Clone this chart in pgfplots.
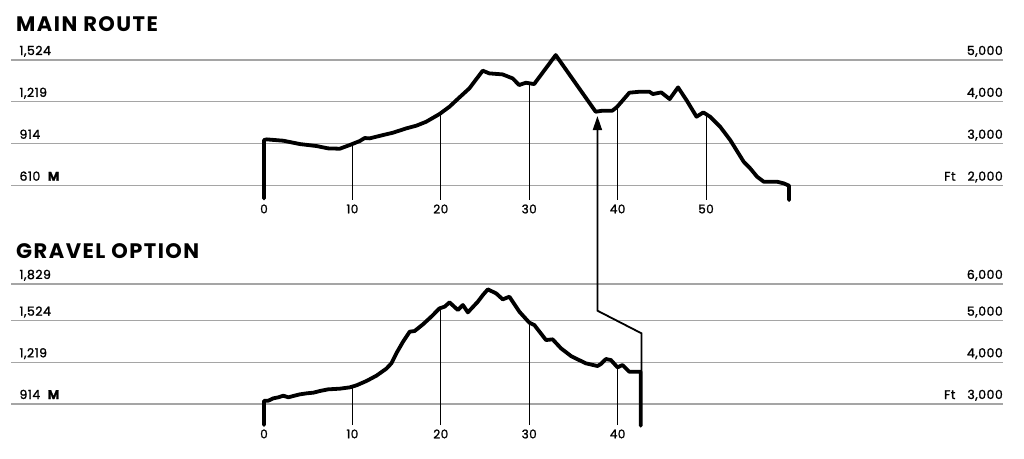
\documentclass[border=0pt]{standalone}
\usepackage{pgfplots}
\pgfplotsset{compat=1.18}
\usepackage{fontspec}
\setmainfont{Poppins}
\newfontfamily\labf{Poppins}[FakeBold=1.5, LetterSpace=4]
\newfontfamily\titf{Poppins}[LetterSpace=7]
\usetikzlibrary{arrows.meta}
\definecolor{gridgray}{RGB}{165,165,165}

\pgfplotsset{
  elev/.style={
    scale only axis,
    width=992pt,
    xmin=-28.62, xmax=83.6,
    axis line style={draw=none},
    major tick length=0pt,
    ymajorgrids,
    grid style={gridgray, line width=1.1pt},
    clip=false,
    xtick={0,10,20,30,40,50},
    xticklabel style={font=\labf\fontsize{12}{14}\selectfont, yshift=-1pt},
    yticklabel style={font=\labf\fontsize{12.5}{14}\selectfont, anchor=base west, xshift=5pt, yshift=5pt},
    /pgf/number format/assume math mode=true,
  },
  prof/.style={black, line width=3.8pt, line join=round, line cap=round},
  drop/.style={black, line width=0.9pt},
}

\begin{document}
\begin{tikzpicture}
\useasboundingbox (0pt,0pt) rectangle (1024pt,458pt);

% ---------------- MAIN ROUTE ----------------
\node[anchor=base west, font=\titf\fontsize{21}{24}\selectfont\bfseries, inner sep=0pt] at (16pt,458pt-32pt) {MAIN ROUTE};
\begin{axis}[elev,
  at={(11pt,258pt)}, anchor=south west,
  height=160pt,
  ymin=1659, ymax=5478,
  ytick={2000,3000,4000,5000},
  yticklabels={610\hspace{7pt}\textbf{M},914,{1,219},{1,524}},
]
\addplot[prof] coordinates {
(0,1698) (0,3090) (0.3,3106) (2.18,3074) (4.06,2994) (5.94,2947) (7.26,2891)
(8.57,2883) (9.70,2971) (10.83,3066) (11.39,3138) (11.95,3130) (13.46,3209)
(14.59,3265) (16.09,3368) (17.22,3432) (18.35,3527) (19.85,3710) (20.98,3885)
(22.11,4108) (23.23,4323) (24.74,4745) (25.49,4681) (26.99,4657) (28.12,4562)
(28.87,4403) (29.62,4458) (30.56,4426) (33.0,5118) (37.52,3766) (38.27,3790)
(39.40,3790) (39.96,3885) (41.33,4220) (42.47,4243) (43.6,4243) (43.99,4188)
(44.94,4227) (45.89,4068) (46.84,4347) (47.79,4045) (48.93,3647) (49.7,3750)
(50.46,3647) (51.6,3408) (52.74,3090) (54.26,2573) (55.0,2414) (55.78,2215)
(56.54,2095) (58.06,2095) (58.8,2056) (59.4,2000) (59.4,1658)
};
\addplot[drop] coordinates {(10,1659) (10,2990)};
\addplot[drop] coordinates {(20,1659) (20,3760)};
\addplot[drop] coordinates {(30,1659) (30,4440)};
\addplot[drop] coordinates {(40,1659) (40,3890)};
\addplot[drop] coordinates {(50,1659) (50,3700)};
\coordinate (tip) at (axis cs:37.75,3663);
\foreach \v/\t in {2000/{Ft\hspace{12pt}2,000},3000/{3,000},4000/{4,000},5000/{5,000}}{
  \edef\tmp{\noexpand\node[anchor=base east, inner sep=0pt, font=\noexpand\labf\noexpand\fontsize{12.5}{14}\noexpand\selectfont] at (axis cs:83.6,\v) [yshift=5pt] {\unexpanded\expandafter{\t}};}
  \tmp
}
\end{axis}

% ---------------- GRAVEL OPTION ----------------
\node[anchor=base west, font=\titf\fontsize{21}{24}\selectfont\bfseries, inner sep=0pt] at (16pt,458pt-259pt) {GRAVEL OPTION};
\begin{axis}[elev,
  at={(11pt,33pt)}, anchor=south west,
  height=145pt,
  ymin=2496, ymax=5977,
  xtick={0,10,20,30,40},
  ytick={3000,4000,5000,5881},
  yticklabels={914\hspace{7pt}\textbf{M},{1,219},{1,524},{1,829}},
]
\addplot[prof] coordinates {
(0,2496) (0,3080) (0.49,3080) (1.05,3136) (1.62,3160) (2.18,3200) (2.75,3160)
(3.31,3192) (4.06,3232) (4.82,3256) (5.57,3272) (6.32,3312) (7.26,3352)
(8.58,3368) (9.71,3400) (10.46,3448) (11.59,3552) (12.72,3680) (13.84,3848)
(14.41,3976) (14.97,4216) (15.73,4496) (16.48,4736) (17.04,4752) (17.98,4912)
(18.92,5096) (19.86,5296) (20.43,5336) (20.99,5440) (21.93,5256) (22.5,5376)
(23.06,5200) (24.19,5456) (24.76,5616) (25.32,5752) (26.26,5656) (27.01,5512)
(27.76,5576) (28.89,5216) (30.02,4952) (30.58,4896) (31.9,4536) (32.65,4552)
(33.6,4336) (34.73,4152) (35.48,4072) (36.42,3976) (37.73,3912) (38.11,3960)
(38.68,4080) (39.24,4056) (39.99,3880) (40.56,3936) (41.31,3776) (42.25,3776)
(42.62,3776) (42.62,2480)
};
\addplot[drop] coordinates {(10,2496) (10,3400)};
\addplot[drop] coordinates {(20,2496) (20,5306)};
\addplot[drop] coordinates {(30,2496) (30,4952)};
\addplot[drop] coordinates {(40,2496) (40,3880)};
\coordinate (g0) at (axis cs:42.7,3776);
\coordinate (g1) at (axis cs:42.7,4697);
\coordinate (g2) at (axis cs:37.72,5240);
\foreach \v/\t in {3000/{Ft\hspace{12pt}3,000},4000/{4,000},5000/{5,000},5881/{6,000}}{
  \edef\tmp{\noexpand\node[anchor=base east, inner sep=0pt, font=\noexpand\labf\noexpand\fontsize{12.5}{14}\noexpand\selectfont] at (axis cs:83.6,\v) [yshift=5pt] {\unexpanded\expandafter{\t}};}
  \tmp
}
\end{axis}

\draw[black, line width=1.8pt, line join=miter, -{Triangle[length=14pt,width=9pt]}]
  (g0) -- (g1) -- (g2) -- (g2 |- tip);
\end{tikzpicture}
\end{document}
